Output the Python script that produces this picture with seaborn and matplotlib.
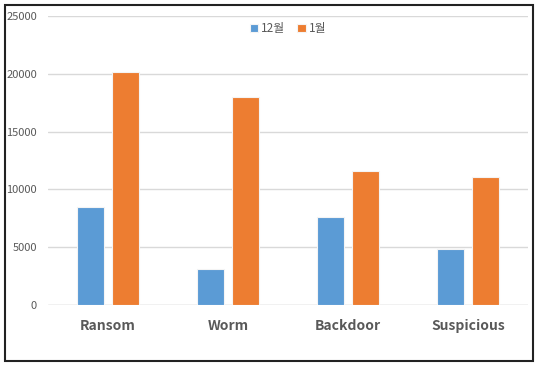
import pandas as pd
import matplotlib.pyplot as plt
import seaborn as sns
from matplotlib.patches import Rectangle

# Data
categories = ['Ransom', 'Worm', 'Backdoor', 'Suspicious']
dec_values = [8500, 3100, 7600, 4850]
jan_values = [20200, 18000, 11600, 11050]
series_names = ['12월', '1월']

df = pd.DataFrame({
    'category': categories * 2,
    'month': [series_names[0]] * 4 + [series_names[1]] * 4,
    'count': dec_values + jan_values,
})

sns.set_style('white')
plt.rcParams['font.family'] = ['Noto Sans CJK KR', 'DejaVu Sans']

fig = plt.figure(figsize=(5.41, 3.67), dpi=100)
ax = fig.add_axes([0.089, 0.169, 0.887, 0.787])

sns.barplot(data=df, x='category', y='count', hue='month',
            palette=['#5B9BD5', '#ED7D31'], saturation=1, width=0.58, gap=0.22,
            edgecolor='#F4F4F4', linewidth=0.8, ax=ax, zorder=3)

ax.set_ylim(0, 25000)
ax.set_yticks(range(0, 25001, 5000))
ax.yaxis.grid(True, color='#D9D9D9', linewidth=1, zorder=0)
ax.set_axisbelow(True)
for s in ax.spines.values():
    s.set_visible(False)
ax.axhline(0, color='#D9D9D9', linewidth=1, zorder=1)
ax.set_xlabel('')
ax.set_ylabel('')
ax.tick_params(axis='y', labelsize=8, labelcolor='#595959', length=0, pad=8)
ax.tick_params(axis='x', length=0, pad=10)
for lbl in ax.get_xticklabels():
    lbl.set_fontsize(10)
    lbl.set_fontweight('bold')
    lbl.set_color('#595959')

ax.legend(loc='upper center', bbox_to_anchor=(0.5, 1.015), ncol=2, frameon=False,
          fontsize=8.5, handlelength=0.7, handleheight=0.7, handletextpad=0.3,
          columnspacing=1.0, labelcolor='#595959')

# outer border
fig.patches.append(Rectangle((5 / 541, 6 / 367), 528 / 541, 356 / 367,
                             transform=fig.transFigure, fill=False,
                             edgecolor='#222222', linewidth=1.5))

fig.savefig('out.png', dpi=100)
